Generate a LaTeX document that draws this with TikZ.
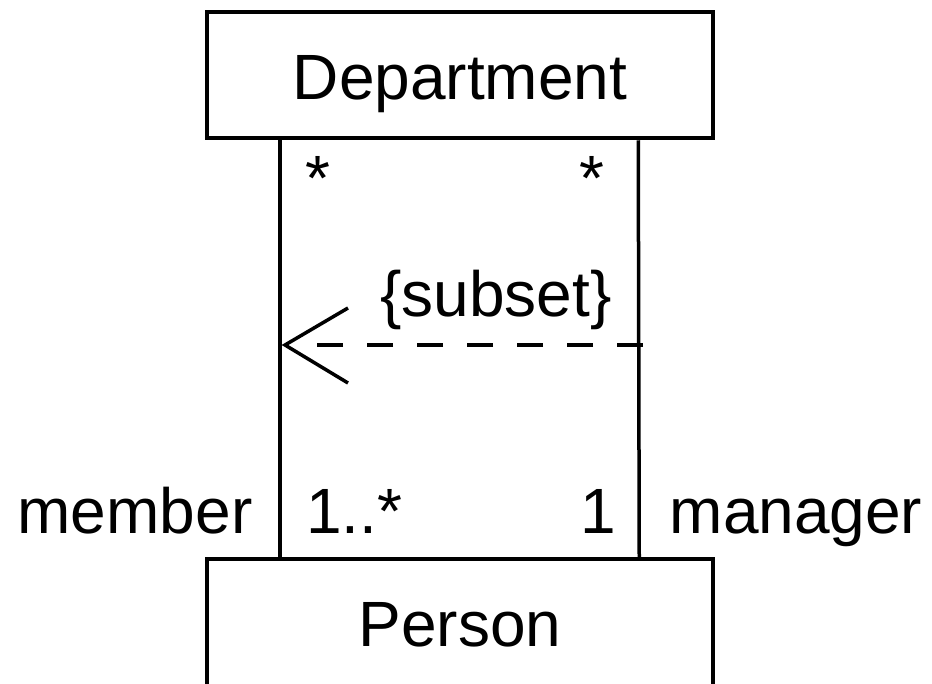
\documentclass[tikz,border=0pt]{standalone}
\usepackage{fontspec}
\setmainfont{Liberation Sans}
\usetikzlibrary{arrows.meta}

\begin{document}
\begin{tikzpicture}[x=1pt,y=-1pt,
    classbox/.style={draw,line width=4.5pt,minimum width=506pt,minimum height=126pt,inner sep=0pt,text height=0.78em,text depth=0pt},
    link/.style={line width=3.5pt},
    dashlink/.style={line width=3.5pt,dash pattern=on 26pt off 24pt},
    lbl/.style={inner sep=0pt,anchor=base}]
  \useasboundingbox (0,0) rectangle (932,683);
  \clip (0,0) rectangle (932,683);
  \fontsize{64}{76}\selectfont
  \node[classbox] (dept) at (460,75) {Department};
  \node[classbox,minimum height=136pt,text depth=10pt] (person) at (460,627) {Person};
  \draw[link] ([xshift=75pt]dept.south west) -- ([xshift=75pt]person.north west);
  \draw[link] ([xshift=-77pt]dept.south east) -- ([xshift=-76pt]person.north east);
  \coordinate (sub-from) at (643,345);
  \coordinate (sub-tip) at (285,345);
  \draw[dashlink] (sub-from) -- ([xshift=32pt]sub-tip);
  \draw[link] ([shift={(63,-37)}]sub-tip) -- (sub-tip) -- ([shift={(63,38)}]sub-tip);
  \node[lbl] (subset) at (496,316) {\{subset\}};
  \node[lbl] (dept-star-l) at (318,200) {*};
  \node[lbl] (dept-star-r) at (592,200) {*};
  \node[lbl,anchor=base west] (member-mult) at (306,533) {1..*};
  \node[lbl,anchor=base east] (manager-mult) at (616,533) {1};
  \node[lbl] (member) at (135,533) {member};
  \node[lbl] (manager) at (796,533) {manager};
\end{tikzpicture}
\end{document}
